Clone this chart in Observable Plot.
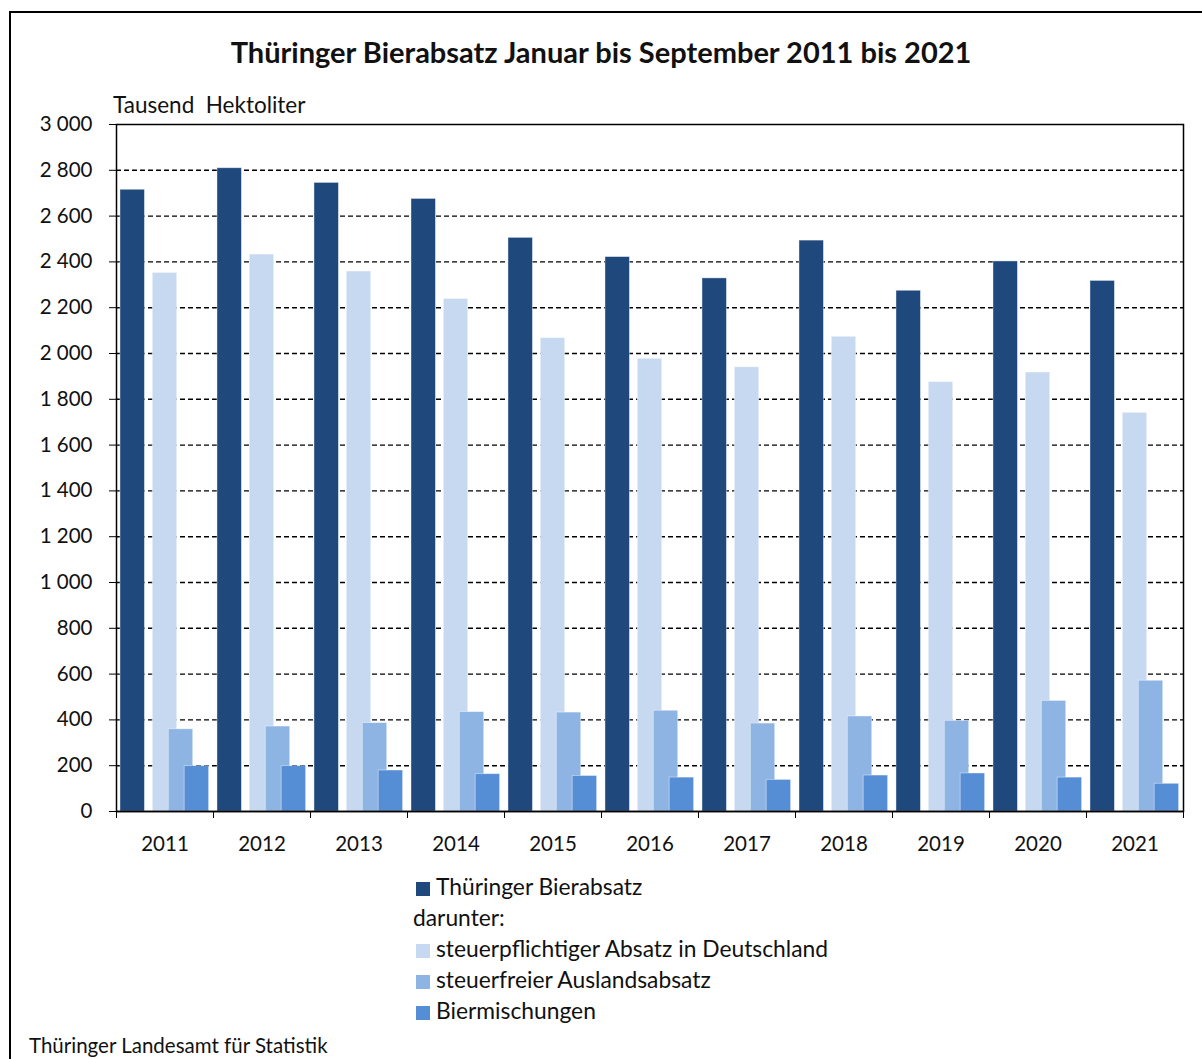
<!DOCTYPE html>
<html>
<head>
<meta charset="utf-8">
<script src="https://cdn.jsdelivr.net/npm/d3@7"></script>
<script src="https://cdn.jsdelivr.net/npm/@observablehq/plot@0.6"></script>
<style>
  html, body { margin: 0; padding: 0; background: #fff; }
  body { width: 1202px; height: 1059px; overflow: hidden; font-family: Lato, "Noto Sans", sans-serif; color: #111; }
  #wrap { position: relative; width: 1202px; height: 1059px; }
  #border { position: absolute; left: 9px; top: 11px; width: 1300px; height: 1100px; border-left: 2px solid #000; border-top: 2px solid #000; }
  #title { position: absolute; left: 0; width: 1202px; top: 34px; text-align: center; font-weight: bold; font-size: 29px; }
  #ylabel { position: absolute; left: 113px; top: 91px; font-size: 22.5px; white-space: pre; }
  #chart { position: absolute; left: 0; top: 100px; }
  #legend { position: absolute; left: 413px; top: 871px; font-size: 22.8px; }
  .row { height: 31px; line-height: 30px; white-space: nowrap; }
  .sw { display: inline-block; width: 14px; height: 14px; margin: 0 6px 0 3px; vertical-align: -1px; }
  #caption { position: absolute; left: 29px; top: 1033px; font-size: 20.5px; }
</style>
</head>
<body>
<div id="wrap">
  <div id="border"></div>
  <div id="title">Thüringer Bierabsatz Januar bis September 2011 bis 2021</div>
  <div id="ylabel">Tausend  Hektoliter</div>
  <div id="chart"></div>
  <div id="legend"></div>
  <div id="caption">Thüringer Landesamt für Statistik</div>
</div>
<script>
const years = ["2011","2012","2013","2014","2015","2016","2017","2018","2019","2020","2021"];
const seriesNames = ["Thüringer Bierabsatz", "steuerpflichtiger Absatz in Deutschland", "steuerfreier Auslandsabsatz", "Biermischungen"];
const seriesColors = ["#1f497d", "#c6d9f1", "#8eb4e3", "#558ed5"];
const gesamt = [2715, 2809, 2745, 2675, 2505, 2421, 2328, 2493, 2274, 2402, 2317];
const steuerpflichtig = [2352, 2432, 2358, 2238, 2067, 1977, 1940, 2073, 1875, 1917, 1741];
const auslandsabsatz = [359, 371, 386, 434, 432, 440, 384, 415, 396, 483, 571];
const biermischungen = [198, 198, 179, 163, 155, 148, 138, 157, 166, 148, 121];
const yTicks = [0, 200, 400, 600, 800, 1000, 1200, 1400, 1600, 1800, 2000, 2200, 2400, 2600, 2800, 3000];

// layout of the overlapping bars within each year slot (fraction of slot)
const barOffset = [0.041, 0.374, 0.539, 0.703];
const barWidth = 0.252;

const seriesValues = [gesamt, steuerpflichtig, auslandsabsatz, biermischungen];
const data = [];
seriesValues.forEach((vals, s) => {
  vals.forEach((v, i) => {
    data.push({ i, s, year: years[i], series: seriesNames[s], value: v, x1: i + barOffset[s], x2: i + barOffset[s] + barWidth });
  });
});

const fmt = d => d3.format(",")(d).replace(/,/g, " ");
const slots = d3.range(0, years.length + 1);
const centers = years.map((_, i) => i + 0.5);

const plot = Plot.plot({
  width: 1202,
  height: 770,
  marginTop: 24,
  marginBottom: 59,
  marginLeft: 116,
  marginRight: 19,
  style: { fontFamily: "Lato, 'Noto Sans', sans-serif", fontSize: "20px", color: "#111", background: "transparent" },
  x: { type: "linear", domain: [0, years.length] },
  y: { domain: [0, 3000] },
  color: { domain: seriesNames, range: seriesColors },
  marks: [
    Plot.ruleY(yTicks.filter(d => d > 0 && d < 3000), { stroke: "#000", strokeWidth: 1.4, strokeDasharray: "5,3" }),
    Plot.rectY(data, { x1: "x1", x2: "x2", y: "value", fill: "series", stroke: "#fff", strokeOpacity: 0.5, strokeWidth: 0.8 }),
    Plot.frame({ stroke: "#000", strokeWidth: 1.5 }),
    Plot.axisY({ ticks: yTicks, tickSize: 7, tickPadding: 17, tickFormat: fmt, fontSize: 20.5, label: null, stroke: "#000" }),
    Plot.axisX({ ticks: slots, tickSize: 7, tickFormat: () => "", label: null, stroke: "#000" }),
    Plot.axisX({ ticks: centers, tickSize: 0, tickPadding: 25, tickFormat: d => years[Math.floor(d)], fontSize: 20.5, label: null }),
    Plot.ruleY([0], { stroke: "#000", strokeWidth: 1.5 })
  ]
});
document.getElementById("chart").appendChild(plot);

const legend = document.getElementById("legend");
const addRow = (text, color) => {
  const r = document.createElement("div");
  r.className = "row";
  if (color) {
    const sw = document.createElement("span");
    sw.className = "sw";
    sw.style.background = color;
    r.appendChild(sw);
  }
  r.appendChild(document.createTextNode(text));
  legend.appendChild(r);
};
addRow(seriesNames[0], seriesColors[0]);
addRow("darunter:", null);
addRow(seriesNames[1], seriesColors[1]);
addRow(seriesNames[2], seriesColors[2]);
addRow(seriesNames[3], seriesColors[3]);
</script>
</body>
</html>
